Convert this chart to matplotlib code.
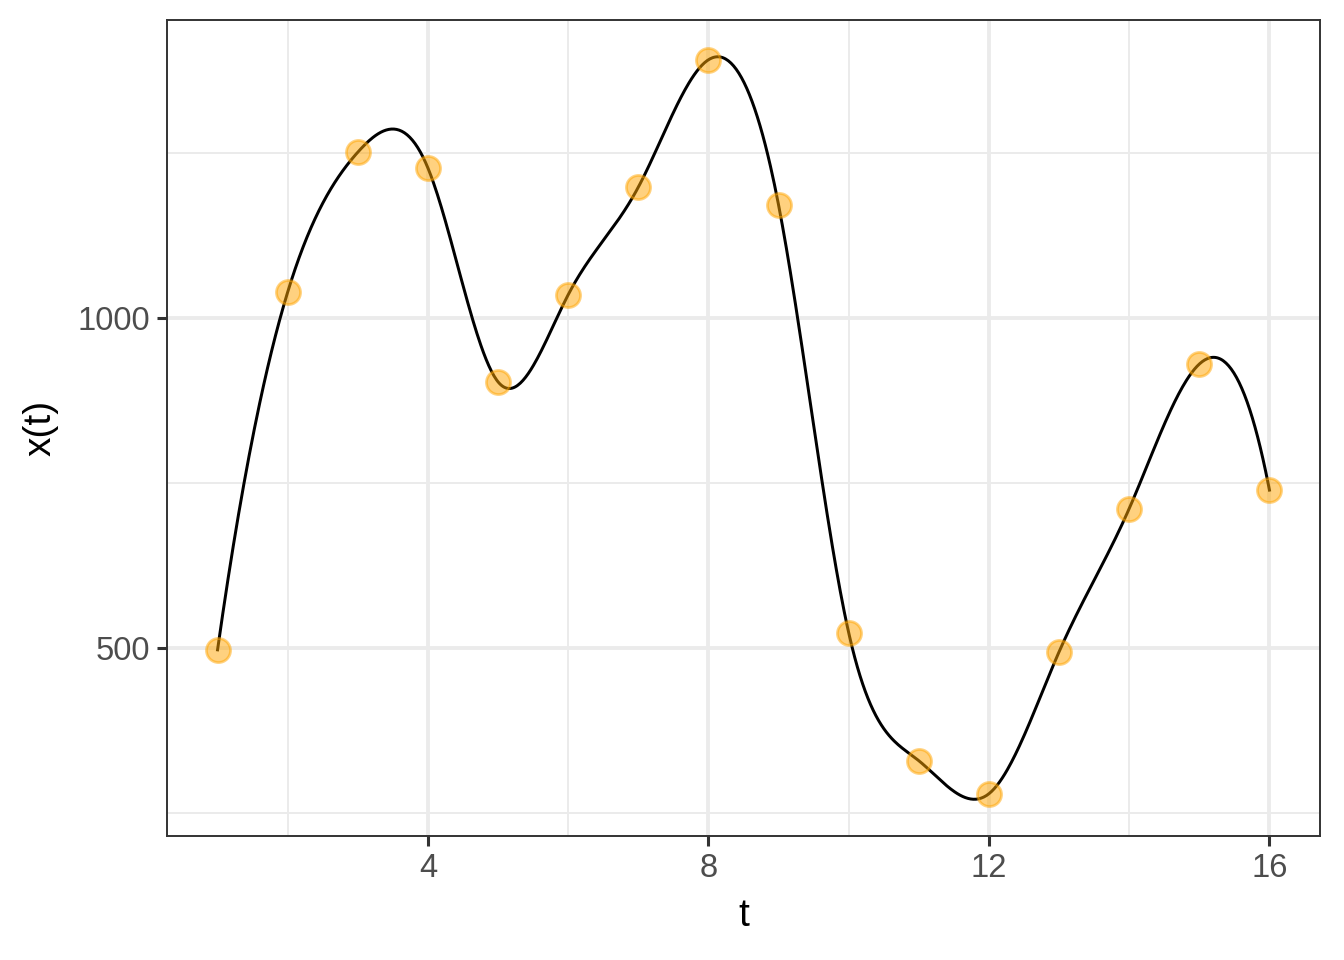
import matplotlib
matplotlib.use("Agg")
import matplotlib.pyplot as plt
import numpy as np

t = np.arange(1, 17)
x_t = np.array([497, 1039, 1251, 1227, 903, 1035, 1198, 1391,
                1171, 523, 329, 279, 494, 711, 930, 739], dtype=float)

x_ticks = [4, 8, 12, 16]
y_ticks = [500, 1000]

plt.rcParams['font.family'] = ['Liberation Sans', 'DejaVu Sans']


def fmm_spline(xk, yk, xs):
    # cubic spline with fmm end conditions (like R's spline())
    n = len(xk)
    h = np.diff(xk)
    dd1 = np.diff(yk) / h
    A = np.zeros((n, n))
    r = np.zeros(n)
    for i in range(1, n - 1):
        A[i, i - 1] = h[i - 1]
        A[i, i] = 2 * (h[i - 1] + h[i])
        A[i, i + 1] = h[i]
        r[i] = 6 * (dd1[i] - dd1[i - 1])

    def third_dd(xx, yy):
        d1 = np.diff(yy) / np.diff(xx)
        d2 = np.diff(d1) / (xx[2:] - xx[:-2])
        return (d2[1] - d2[0]) / (xx[3] - xx[0])

    A[0, 0], A[0, 1] = -1, 1
    r[0] = 6 * h[0] * third_dd(xk[:4], yk[:4])
    A[-1, -2], A[-1, -1] = -1, 1
    r[-1] = 6 * h[-1] * third_dd(xk[-4:], yk[-4:])
    M = np.linalg.solve(A, r)

    idx = np.clip(np.searchsorted(xk, xs) - 1, 0, n - 2)
    x0, x1 = xk[idx], xk[idx + 1]
    hi = h[idx]
    a = (x1 - xs) / hi
    b = (xs - x0) / hi
    return (a * yk[idx] + b * yk[idx + 1]
            + ((a ** 3 - a) * M[idx] + (b ** 3 - b) * M[idx + 1]) * hi ** 2 / 6)


t_fine = np.linspace(t.min(), t.max(), 800)
x_fine = fmm_spline(t.astype(float), x_t, t_fine)

fig = plt.figure(figsize=(6.72, 4.8), dpi=200)
ax = fig.add_axes([0.1243, 0.1292, 0.8578, 0.8498])

ax.set_xlim(0.28, 16.72)
ax.set_ylim(215, 1451)

# grid like theme_bw
for v in [2, 6, 10, 14]:
    ax.axvline(v, color="#EBEBEB", lw=0.7, zorder=0)
for v in [250, 750, 1250]:
    ax.axhline(v, color="#EBEBEB", lw=0.7, zorder=0)
for v in x_ticks:
    ax.axvline(v, color="#EBEBEB", lw=1.4, zorder=0)
for v in y_ticks:
    ax.axhline(v, color="#EBEBEB", lw=1.4, zorder=0)

ax.plot(t_fine, x_fine, color="black", lw=1.07, zorder=2)
ax.scatter(t, x_t, s=75, color="#FFA500", alpha=0.5,
           edgecolors="#FFA500", linewidths=1.0, zorder=3)

ax.set_xticks(x_ticks)
ax.set_yticks(y_ticks)
ax.tick_params(axis="both", colors="#333333", labelcolor="#4D4D4D",
               labelsize=11.8, length=3.5, width=1.1, pad=2.5)
for s in ax.spines.values():
    s.set_color("#333333")
    s.set_linewidth(0.7)

ax.set_xlabel("t", fontsize=14, color="black", labelpad=5)
ax.set_ylabel("x(t)", fontsize=14, color="black", labelpad=7)

fig.savefig("out.png", dpi=200)
